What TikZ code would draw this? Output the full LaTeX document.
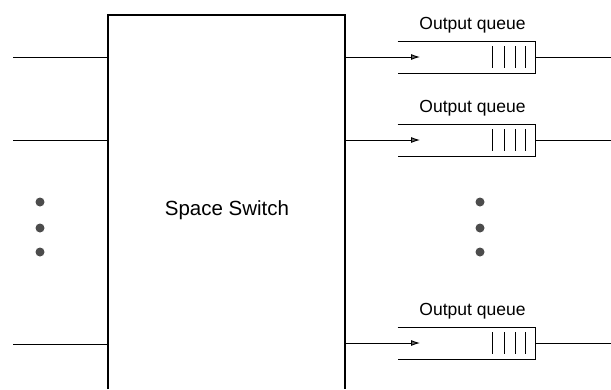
\documentclass[tikz,border=0pt]{standalone}
\usepackage{fontspec}
\setmainfont{Liberation Sans}
\usetikzlibrary{arrows.meta,positioning,calc}

\begin{document}
\begin{tikzpicture}[x=1pt,y=-1pt,>={Latex[length=9pt,width=6pt,fill=black!60]},
    line width=0.9pt,
    queue/.style={minimum width=137pt,minimum height=31pt,inner sep=0pt},
    qlabel/.style={font=\fontsize{17.5}{20}\selectfont,inner sep=0pt},
    dot/.style={circle,fill=black!70,inner sep=0pt,minimum size=9pt}]
  \useasboundingbox (0,0) rectangle (611,389);
  % switch body, open at the bottom
  \coordinate (tl) at (108,15);
  \coordinate (tr) at (345,15);
  \draw[line width=1.3pt] (108,389) -- (tl) -- (tr) -- (345,389);
  \node[font=\fontsize{20.5}{24}\selectfont] (sw) at (227,210) {Space Switch};
  % inputs
  \foreach \y [count=\i] in {57,140,344} {
    \coordinate (in\i) at (13,\y);
    \draw (in\i) -- (108,\y);
  }
  \foreach \y in {202,228,252} {
    \node[dot] at (40,\y) {};
    \node[dot] at (480,\y) {};
  }
  % output queues
  \foreach \y [count=\i] in {57,140,343} {
    \node[queue] (q\i) at (466.5,\y) {};
    \node[qlabel] (l\i) at ($(q\i.north)+(6,-16)$) {Output queue};
    \draw (q\i.north west) -- (q\i.north east) -- (q\i.south east) -- (q\i.south west);
    \foreach \x in {492,504,515,525}
      \draw (\x,\y-11) -- (\x,\y+11);
    \coordinate (a\i) at (420,\y);
    \draw[->] (345,\y) -- (a\i);
    \coordinate (o\i) at (611,\y);
    \draw (q\i.east) -- (o\i);
  }
\end{tikzpicture}
\end{document}
